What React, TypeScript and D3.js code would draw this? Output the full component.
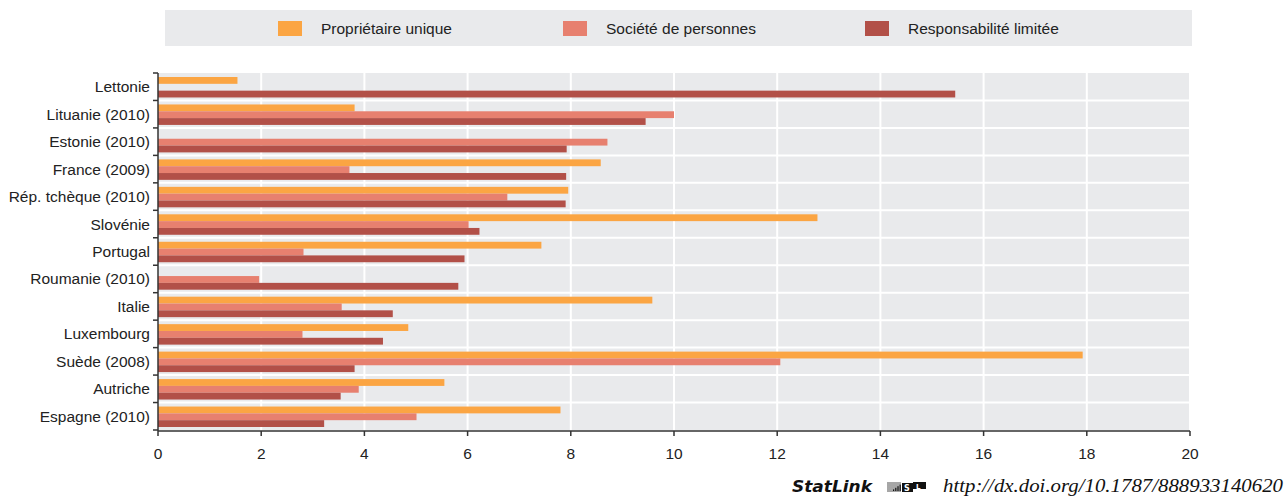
import React from 'react';
import * as d3 from 'd3';

const countries = [
  'Lettonie', 'Lituanie (2010)', 'Estonie (2010)', 'France (2009)', 'Rép. tchèque (2010)',
  'Slovénie', 'Portugal', 'Roumanie (2010)', 'Italie', 'Luxembourg', 'Suède (2008)',
  'Autriche', 'Espagne (2010)',
];
const seriesNames = ['Propriétaire unique', 'Société de personnes', 'Responsabilité limitée'];
const proprietaire = [1.54, 3.81, null, 8.58, 7.95, 12.78, 7.43, null, 9.58, 4.85, 17.92, 5.55, 7.8];
const societe = [null, 10.0, 8.71, 3.71, 6.77, 6.02, 2.82, 1.96, 3.56, 2.8, 12.06, 3.89, 5.01];
const responsabilite = [15.45, 9.45, 7.92, 7.91, 7.9, 6.23, 5.94, 5.82, 4.55, 4.36, 3.81, 3.54, 3.22];
const xTicks = [0, 2, 4, 6, 8, 10, 12, 14, 16, 18, 20];
const colors = ['#FBA543', '#E7806F', '#B25048'];

const W = 1287;
const H = 497;
const m = { left: 158, right: 1190, top: 73, bottom: 430 };
const font = '"Liberation Sans Narrow", "Liberation Sans", Arial, sans-serif';

export default function App() {
  const x = d3.scaleLinear().domain([0, 20]).range([m.left, m.right]);
  const y = d3.scaleBand<string>().domain(countries).range([m.top, m.bottom]);
  const inner = d3.scaleBand<number>().domain([0, 1, 2]).range([4, y.bandwidth() - 3]).padding(0);
  const series = [proprietaire, societe, responsabilite];
  const boundaries = countries.map((c) => y(c) as number).concat([m.bottom]);

  return (
    <div style={{ position: 'absolute', left: 0, top: 0 }}>
      <svg width={W} height={H} style={{ display: 'block', fontFamily: font }}>
        {/* legend */}
        <rect x={165} y={10} width={1027} height={36} fill="#E9EAEC" />
        {seriesNames.map((s, i) => {
          const lx = [278, 563, 865][i];
          return (
            <g key={s}>
              <rect x={lx} y={21} width={24} height={15} fill={colors[i]} />
              <text x={lx + 43} y={34} fontSize={15.5} fill="#222">{s}</text>
            </g>
          );
        })}

        {/* plot background */}
        <rect x={m.left} y={m.top} width={m.right - m.left} height={m.bottom - m.top} fill="#E9EAEC" />
        {xTicks.slice(1).map((t) => (
          <line key={t} x1={x(t)} x2={x(t)} y1={m.top} y2={m.bottom} stroke="#fff" strokeWidth={2} />
        ))}
        {boundaries.slice(1, -1).map((b, i) => (
          <line key={i} x1={m.left} x2={m.right} y1={b} y2={b} stroke="#fff" strokeWidth={2} />
        ))}

        {/* bars */}
        {countries.map((c, ci) => (
          <g key={c}>
            {series.map((arr, si) => {
              const v = arr[ci];
              if (v == null) return null;
              return (
                <rect
                  key={si}
                  x={x(0)}
                  y={(y(c) as number) + (inner(si) as number)}
                  width={x(v) - x(0)}
                  height={inner.bandwidth()}
                  fill={colors[si]}
                />
              );
            })}
          </g>
        ))}

        {/* y axis */}
        <line x1={m.left} x2={m.left} y1={m.top} y2={m.bottom + 1} stroke="#333" strokeWidth={1.5} />
        {boundaries.map((b, i) => (
          <line key={i} x1={m.left - 5} x2={m.left} y1={b} y2={b} stroke="#333" strokeWidth={1.5} />
        ))}
        {countries.map((c) => (
          <text
            key={c}
            x={m.left - 8}
            y={(y(c) as number) + y.bandwidth() / 2 + 5.5}
            textAnchor="end"
            fontSize={15.5}
            fill="#222"
          >
            {c}
          </text>
        ))}

        {/* x axis */}
        <line x1={m.left} x2={m.right} y1={m.bottom + 1} y2={m.bottom + 1} stroke="#333" strokeWidth={1.5} />
        {xTicks.map((t) => (
          <g key={t}>
            <line x1={x(t)} x2={x(t)} y1={m.bottom + 1} y2={m.bottom + 6} stroke="#333" strokeWidth={1.5} />
            <text x={x(t)} y={459} textAnchor="middle" fontSize={15.5} fill="#222">{t}</text>
          </g>
        ))}

        {/* statlink */}
        <text x={792} y={492} fontSize={15} fontWeight="bold" fontStyle="italic" fontFamily='"DejaVu Sans", sans-serif'
          textLength={80} lengthAdjust="spacingAndGlyphs" fill="#111">StatLink</text>
        <g transform="translate(887,482)">
          {[0, 1, 2, 3, 4].map((k) => (
            <line key={'h' + k} x1={0} x2={14} y1={1 + k * 2} y2={1 + k * 2} stroke="#222" strokeWidth={0.8} />
          ))}
          {[0, 1, 2, 3].map((k) => (
            <rect key={'v' + k} x={6 + k * 2.2} y={9 - (k + 1) * 1.6} width={1.2} height={(k + 1) * 1.6} fill="#111" />
          ))}
          <rect x={15} y={1} width={11} height={9} fill="#111" />
          <rect x={26} y={0} width={13} height={7} fill="#111" />
          <text x={17} y={9} fontSize={8} fill="#fff" fontWeight="bold" fontFamily="DejaVu Sans, sans-serif">S</text>
          <text x={29} y={6.5} fontSize={7} fill="#fff" fontWeight="bold" fontFamily="DejaVu Sans, sans-serif">L</text>
        </g>
        <text x={943} y={492} fontSize={19} fontStyle="italic" fontFamily='"Liberation Serif", "DejaVu Serif", serif'
          textLength={340} lengthAdjust="spacingAndGlyphs" fill="#111">
          http://dx.doi.org/10.1787/888933140620
        </text>
      </svg>
    </div>
  );
}
